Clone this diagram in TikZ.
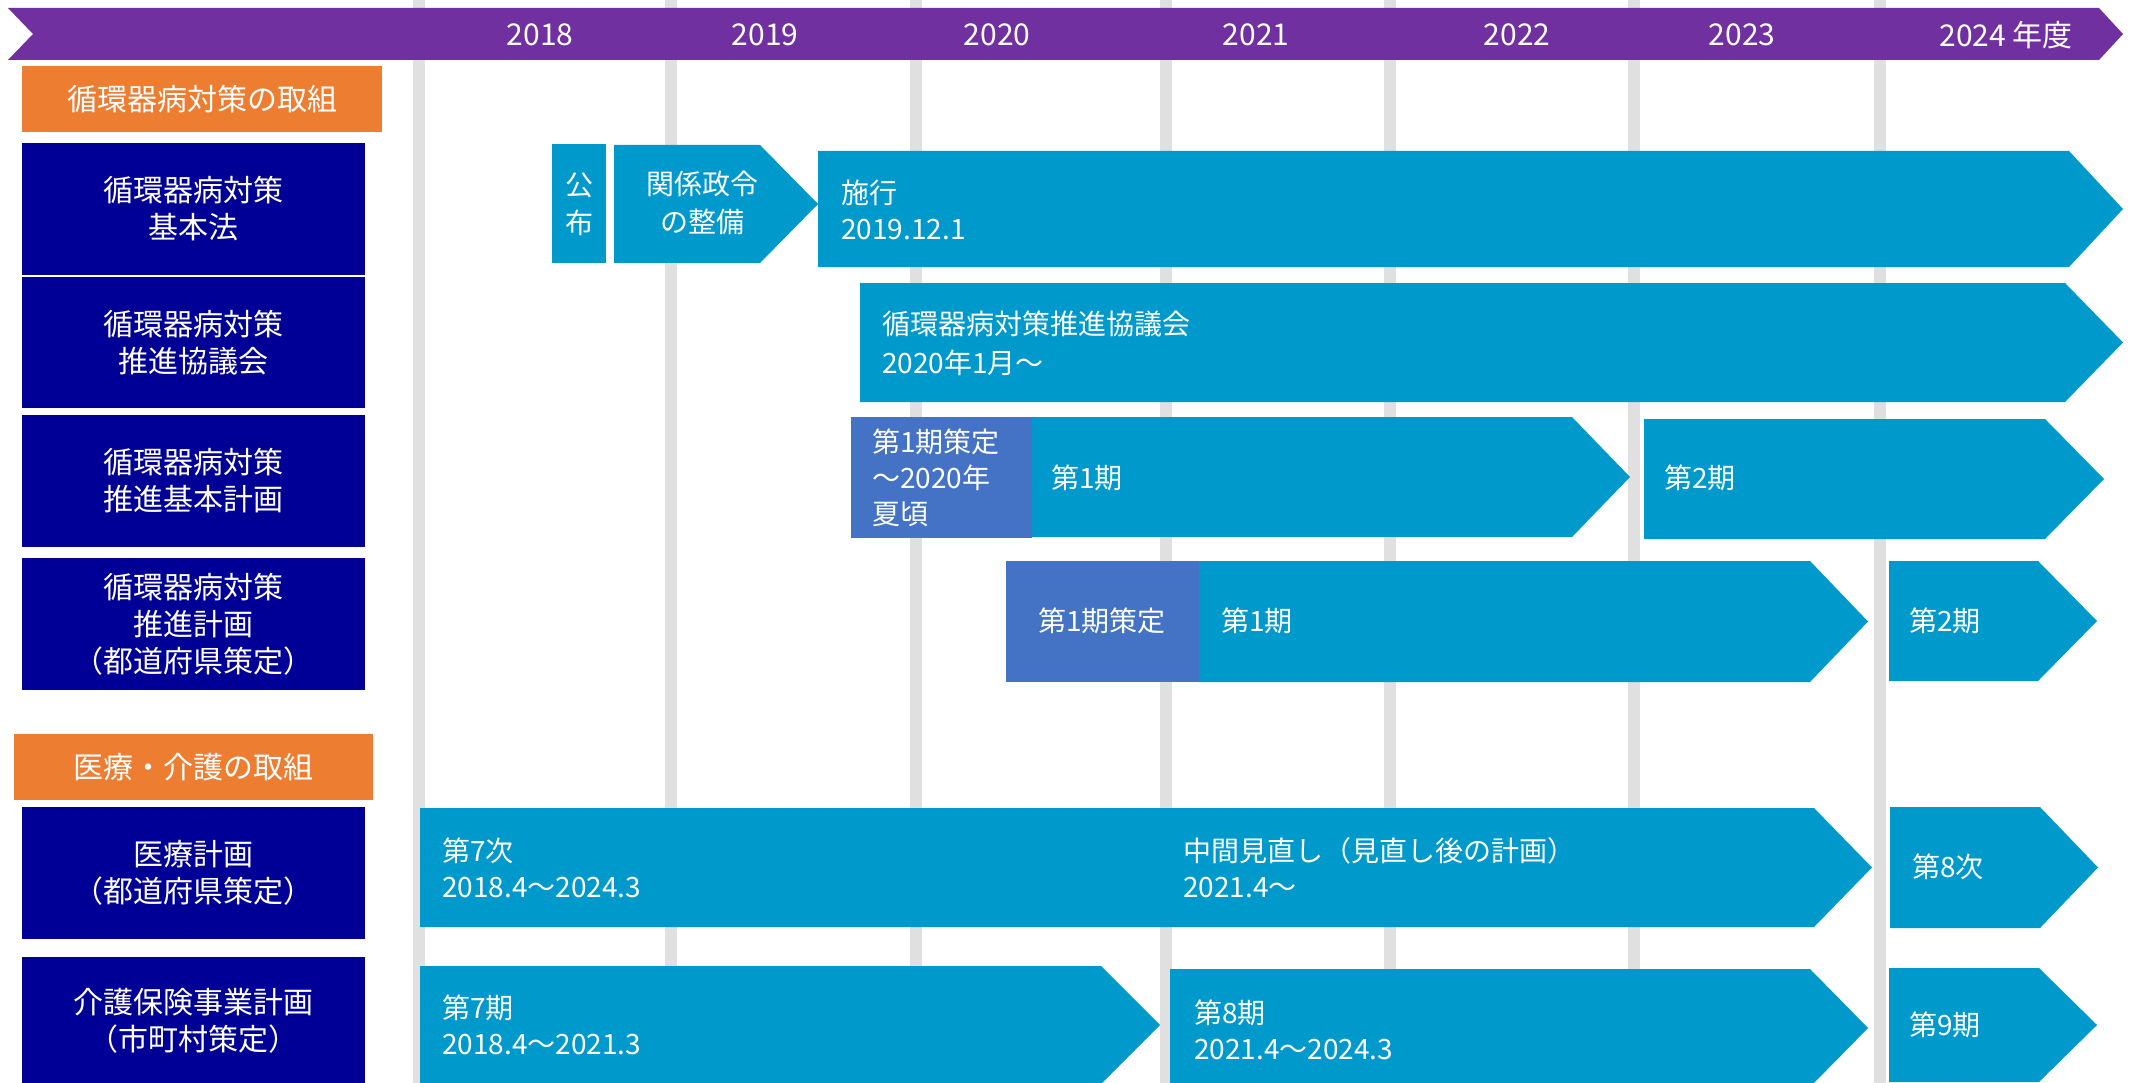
\documentclass[tikz,border=0pt]{standalone}
\usepackage{fontspec}
\setmainfont{Noto Sans CJK JP}
\definecolor{headC}{RGB}{112,48,160}
\definecolor{orangeC}{RGB}{237,125,49}
\definecolor{navyC}{RGB}{0,0,150}
\definecolor{cyanC}{RGB}{0,153,204}
\definecolor{draftC}{RGB}{68,114,196}
\definecolor{gridC}{RGB}{224,224,224}
% chevron bar: style, left x, top y, corner x, tip x, bottom y
\newcommand\chevbar[6]{\fill[#1] (#2,#3) -- (#4,#3) -- (#5,{(#3+#6)/2}) -- (#4,#6) -- (#2,#6) -- cycle;}
\begin{document}
\begin{tikzpicture}[x=1pt,y=-1pt,
  every node/.style={inner sep=0pt,text=white},
  hdr/.style={fill=orangeC,minimum width=360pt,minimum height=66pt,font=\fontsize{30}{38}\selectfont},
  rowlab/.style={fill=navyC,minimum width=343pt,minimum height=131pt,align=center,font=\fontsize{30}{37}\selectfont},
  yr/.style={font=\fontsize{30}{36}\selectfont},
  bartext/.style={anchor=west,align=left,font=\fontsize{28}{36}\selectfont},
  midtext/.style={align=center,font=\fontsize{28}{38}\selectfont},
  barfill/.style={fill=cyanC},
  draftbox/.style={fill=draftC}]
\clip (0,0) rectangle (2132,1083);
\fill[white] (0,0) rectangle (2132,1083);

% year gridlines
\foreach \gx in {419,671,916,1166,1390,1634,1880}
  \fill[gridC] (\gx-6,0) rectangle (\gx+6,1083);

% timeline header
\fill[headC] (8,8) -- (2099,8) -- (2123,34) -- (2099,60) -- (8,60) -- (33,34) -- cycle;
\node[yr] (y2018) at (540,35) {2018};
\node[yr] (y2019) at (765,35) {2019};
\node[yr] (y2020) at (997,35) {2020};
\node[yr] (y2021) at (1256,35) {2021};
\node[yr] (y2022) at (1517,35) {2022};
\node[yr] (y2023) at (1742,35) {2023};
\node[yr] (y2024) at (2006,35) {2024 年度};

% section headers
\node[hdr] (hdrCirc) at (202,99) {循環器病対策の取組};
\node[hdr,minimum width=359pt] (hdrCare) at (193.5,767) {医療・介護の取組};

% row labels
\node[rowlab,minimum height=132pt] (labLaw) at (193.5,209) {循環器病対策\\基本法};
\node[rowlab] (labCouncil) at (193.5,342.5) {循環器病対策\\推進協議会};
\node[rowlab,minimum height=132pt] (labBasic) at (193.5,481) {循環器病対策\\推進基本計画};
\node[rowlab,minimum height=132pt] (labPref) at (193.5,624) {循環器病対策\\推進計画\\（都道府県策定）};
\node[rowlab,minimum height=132pt] (labMed) at (193.5,873) {医療計画\\（都道府県策定）};
\node[rowlab,minimum height=128pt] (labCare) at (193.5,1021) {介護保険事業計画\\（市町村策定）};

% basic law
\fill[barfill] (552,144) rectangle (606,263);
\node[midtext] (tPromul) at (579,204) {公\\布};
\chevbar{barfill}{614}{145}{760}{818}{263}
\node[midtext] (tOrder) at (702,203) {関係政令\\の整備};
\chevbar{barfill}{818}{151}{2069}{2123}{267}
\node[bartext] (tEnforce) at (841,210) {施行\\2019.12.1};

% council
\chevbar{barfill}{860}{283}{2065}{2123}{402}
\node[bartext,font=\fontsize{28}{39}\selectfont] (tCouncil) at (882,343) {循環器病対策推進協議会\\2020年1月～};

% basic plan
\chevbar{barfill}{1032}{417}{1572}{1630}{537}
\fill[draftbox] (851,417) rectangle (1032,538);
\node[bartext] (tDraftA) at (872,478) {第1期策定\\～2020年\\夏頃};
\node[bartext] (tBasic1) at (1051,478) {第1期};
\chevbar{barfill}{1644}{419}{2045}{2104}{539}
\node[bartext] (tBasic2) at (1664,478) {第2期};

% prefectural plan
\chevbar{barfill}{1199}{561}{1810}{1868}{682}
\fill[draftbox] (1006,561) rectangle (1199,682);
\node[midtext] (tDraftB) at (1102,621) {第1期策定};
\node[bartext] (tPref1) at (1221,621) {第1期};
\chevbar{barfill}{1889}{561}{2038}{2097}{681}
\node[bartext] (tPref2) at (1909,621) {第2期};

% medical plan
\chevbar{barfill}{420}{808}{1814}{1872}{927}
\node[bartext] (tMed7) at (442,868) {第7次\\2018.4～2024.3};
\node[bartext] (tMedMid) at (1183,868) {中間見直し（見直し後の計画）\\2021.4～};
\chevbar{barfill}{1890}{807}{2040}{2098}{928}
\node[bartext] (tMed8) at (1912,867) {第8次};

% long-term care plan
\chevbar{barfill}{420}{966}{1101}{1160}{1084}
\node[bartext] (tCare7) at (442,1025) {第7期\\2018.4～2021.3};
\chevbar{barfill}{1170}{969}{1810}{1868}{1087}
\node[bartext] (tCare8) at (1194,1030) {第8期\\2021.4～2024.3};
\chevbar{barfill}{1889}{968}{2039}{2097}{1082}
\node[bartext] (tCare9) at (1909,1025) {第9期};
\end{tikzpicture}
\end{document}
